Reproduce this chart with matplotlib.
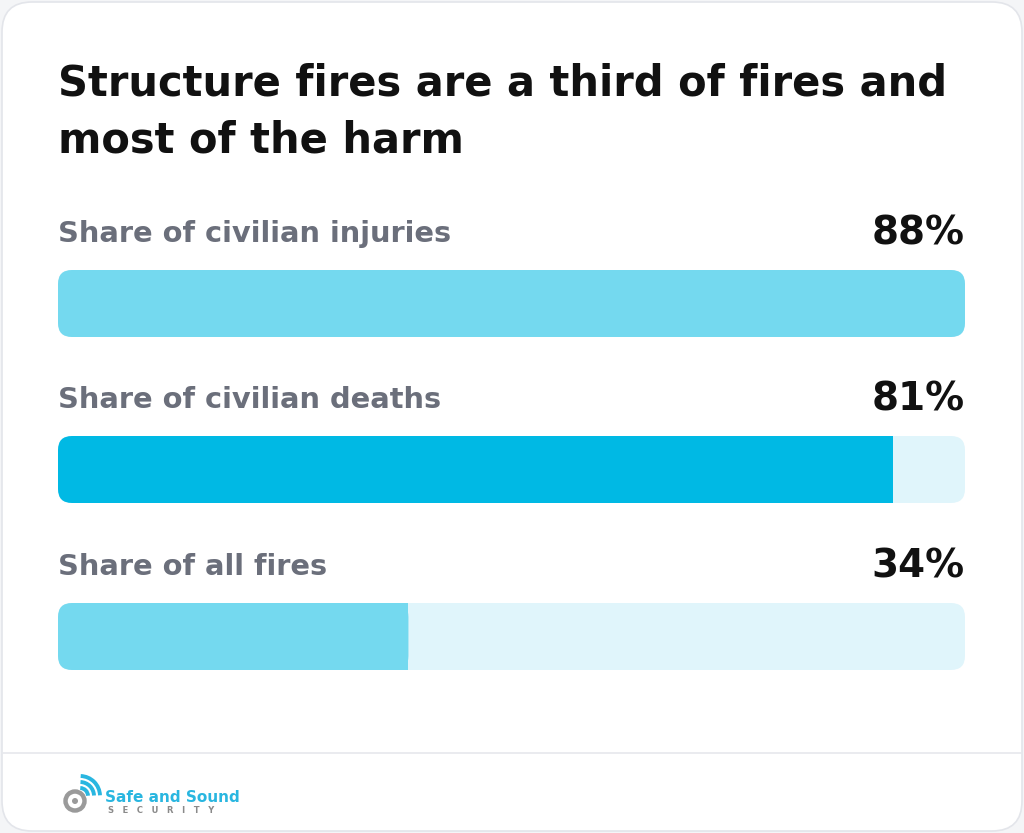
import matplotlib
matplotlib.use('Agg')
import matplotlib.pyplot as plt
from matplotlib.patches import FancyBboxPatch, Arc, Circle

# data
labels = ['Share of civilian injuries', 'Share of civilian deaths', 'Share of all fires']
values = [88, 81, 34]
fill_colors = ['#74d9ef', '#00b9e4', '#74d9ef']
track_color = '#e0f5fb'
title_lines = ['Structure fires are a third of fires and', 'most of the harm']

W, H = 1024, 833
fig = plt.figure(figsize=(W / 100, H / 100), dpi=100, facecolor='#f4f5f7')

# background / card axes in pixel coords
bg = fig.add_axes([0, 0, 1, 1])
bg.set_xlim(0, W)
bg.set_ylim(H, 0)
bg.axis('off')
card = FancyBboxPatch((2, 2), W - 4, H - 4, boxstyle='round,pad=0,rounding_size=30',
                      fc='white', ec='#e3e5ea', lw=1.2)
bg.add_patch(card)
bg.plot([2, W - 2], [753, 753], color='#e6e8ec', lw=1.2)

for k, line in enumerate(title_lines):
    bg.text(58, 95 + 57 * k, line, fontsize=30, fontweight='bold', color='#111111',
            va='baseline', ha='left')

# logo
bg.add_patch(Circle((75, 801), 9.5, fc='none', ec='#9a9a9a', lw=3.2))
bg.add_patch(Circle((75, 801), 3, fc='#9a9a9a', ec='none'))
for r in [8, 14, 20]:
    bg.add_patch(Arc((80, 796), 2 * r, 2 * r, theta1=272, theta2=358, color='#29b6e0', lw=2.8))
bg.text(105, 802, 'Safe and Sound', fontsize=11, color='#29b6e0', fontweight='bold',
        va='baseline', ha='left')
bg.text(108, 813, 'S   E   C   U   R   I   T   Y', fontsize=6, color='#8a8a8a', fontweight='bold',
        va='baseline', ha='left')

# bar axes: x in data units, y in pixels
x0, x1 = 58, 965
ax = fig.add_axes([x0 / W, 0, (x1 - x0) / W, 1])
ax.set_xlim(0, max(values))
ax.set_ylim(H, 0)
ax.axis('off')
ax.patch.set_alpha(0)

bar_top = [270, 436, 603]
bar_h = 67
xpp = max(values) / (x1 - x0)  # data units per pixel
aspect = 1 / xpp
rad = 14 * xpp

for i, (lab, v) in enumerate(zip(labels, values)):
    y = bar_top[i]
    track = FancyBboxPatch((0, y), max(values), bar_h,
                           boxstyle=f'round,pad=0,rounding_size={rad}',
                           mutation_aspect=aspect, fc=track_color, ec='none')
    ax.add_patch(track)
    fill = FancyBboxPatch((0, y), v, bar_h,
                          boxstyle=f'round,pad=0,rounding_size={rad}',
                          mutation_aspect=aspect, fc=fill_colors[i], ec='none')
    ax.add_patch(fill)
    if v < max(values):
        # square off the right end of a partial bar
        ax.barh(y + bar_h / 2, 2 * rad, left=v - 2 * rad, height=bar_h,
                color=fill_colors[i], lw=0)
    ax.text(0, y - 28, lab, fontsize=20.8, fontweight='bold', color='#6b6f7b',
            va='baseline', ha='left')
    ax.text(max(values), y - 26, f'{v}%', fontsize=28, fontweight='bold', color='#111111',
            va='baseline', ha='right')

fig.savefig('out.png', dpi=100, facecolor=fig.get_facecolor())
